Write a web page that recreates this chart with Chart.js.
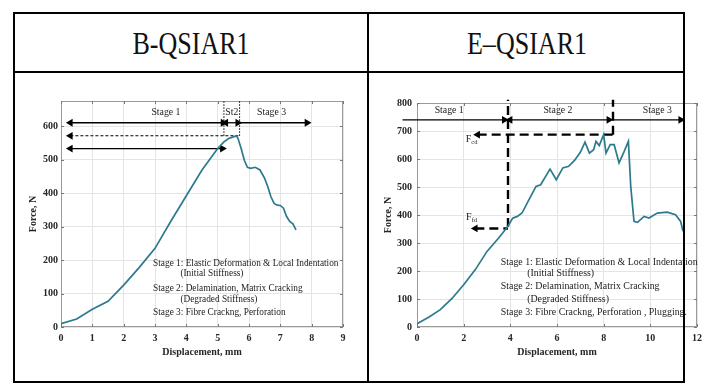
<!DOCTYPE html>
<html lang="en">
  <head>
    <meta charset="UTF-8" />
    <title>B-QSIAR1 / E-QSIAR1</title>
    <style>
      html,
      body {
        margin: 0;
        padding: 0;
        background: #fff;
      }
      body {
        position: relative;
        width: 727px;
        height: 387px;
        overflow: hidden;
        font-family: "Liberation Serif", serif;
      }
      canvas {
        position: absolute;
      }
      #chartB {
        left: 20px;
        top: 80px;
      }
      #chartE {
        left: 372px;
        top: 80px;
      }
      .line {
        position: absolute;
        background: #000;
        z-index: 2;
      }
      .head {
        position: absolute;
        top: 28px;
        width: 200px;
        font-family: "Liberation Serif", "DejaVu Serif", serif;
        font-size: 31px;
        line-height: 1;
        text-align: center;
        transform: scaleX(0.84);
        color: #111;
      }
    </style>
  </head>
  <body>
    <!-- table rules, drawn over the charts -->
    <div class="line" style="left: 13px; top: 12px; width: 672px; height: 2px"></div>
    <div class="line" style="left: 13px; top: 71px; width: 672px; height: 2px"></div>
    <div class="line" style="left: 13px; top: 381px; width: 672px; height: 2px"></div>
    <div class="line" style="left: 13px; top: 12px; width: 2px; height: 371px"></div>
    <div class="line" style="left: 367px; top: 12px; width: 2px; height: 371px"></div>
    <div class="line" style="left: 683px; top: 12px; width: 2px; height: 371px"></div>

    <div class="head" style="left: 91px">B-QSIAR1</div>
    <div class="head" style="left: 427px">E–QSIAR1</div>

    <canvas id="chartB" width="345" height="290"></canvas>
    <canvas id="chartE" width="335" height="290"></canvas>

    <script src="https://cdn.jsdelivr.net/npm/chart.js"></script>
    <script>
      // ---- B-QSIAR1 curve (displacement mm, force N)
      const bDisp = [0, 0.5, 1, 1.5, 2, 2.5, 3, 3.5, 4, 4.5, 5, 5.2, 5.35, 5.5, 5.6, 5.65, 5.75, 5.85, 5.95, 6.05, 6.2, 6.35, 6.5, 6.6, 6.7, 6.8, 6.9, 7.0, 7.1, 7.2, 7.3, 7.4, 7.5];
      const bForce = [10, 24, 53, 77, 125, 178, 235, 315, 392, 469, 533, 553, 563, 568, 571, 563, 533, 498, 477, 474, 477, 469, 444, 419, 389, 369, 364, 363, 355, 330, 315, 308, 290];

      // ---- E-QSIAR1 curve
      const eDisp = [0, 0.5, 1, 1.5, 2, 2.5, 3, 3.5, 3.9, 4.1, 4.3, 4.5, 4.8, 5.1, 5.3, 5.7, 5.97, 6.25, 6.5, 6.75, 7.0, 7.2, 7.39, 7.57, 7.67, 7.81, 8.0, 8.1, 8.28, 8.45, 8.66, 8.88, 9.06, 9.16, 9.3, 9.45, 9.73, 9.94, 10.3, 10.72, 11.08, 11.3, 11.4];
      const eForce = [12, 35, 62, 102, 151, 205, 270, 318, 360, 389, 395, 407, 455, 502, 508, 564, 526, 568, 574, 595, 624, 660, 621, 633, 663, 648, 687, 621, 651, 651, 586, 627, 663, 502, 377, 374, 395, 389, 407, 410, 401, 377, 342];

      // ---- axes
      const bXTicks = [0, 9, 1]; // min, max, step
      const bYTicks = [0, 675, 100];
      const eXTicks = [0, 12, 2];
      const eYTicks = [0, 800, 100];

      // ---- guide lines: [x1, y1, x2, y2, heads, kind]
      const bGuides = [
        [0.3, 610, 5.17, 610, "LR", "solid"],
        [5.26, 610, 5.64, 610, "LR", "solid"],
        [5.7, 610, 7.85, 610, "R", "solid"],
        [0.3, 571, 5.7, 571, "L", "dash"],
        [5.2, 571, 5.2, 675, "", "dot"],
        [5.7, 571, 5.7, 675, "", "dot"],
        [0.3, 533, 5.15, 533, "LR", "solid"],
      ];
      const eGuides = [
        [-0.62, 740, 3.74, 740, "LR", "solid"],
        [3.99, 740, 8.22, 740, "LR", "solid"],
        [8.4, 740, 11.3, 740, "R", "solid"],
        [3.9, 357, 3.9, 812, "", "bigdash"],
        [8.4, 687, 8.4, 812, "", "bigdash"],
        [2.6, 687, 8.4, 687, "L", "bigdash"],
        [2.5, 352, 3.9, 352, "L", "bigdash"],
      ];

      // ---- text notes: label, x, y
      const bStageText = ["Stage 1", "St2", "Stage 3"];
      const bStageX = [3.35, 5.45, 6.72];
      const bStageY = [642, 642, 642];
      const bNoteText = [
        "Stage 1: Elastic Deformation & Local Indentation",
        "(Initial Stiffness)",
        "Stage 2: Delamination, Matrix Cracking",
        "(Degraded Stiffness)",
        "Stage 3: Fibre Crackng, Perforation",
      ];
      const bNoteX = [2.94, 3.81, 2.94, 3.81, 2.94];
      const bNoteY = [190, 159, 115, 83, 44];

      const eStageText = ["Stage 1", "Stage 2", "Stage 3"];
      const eStageX = [1.38, 6.04, 10.3];
      const eStageY = [774, 774, 774];
      const eForceText = [["F", "cd"], ["F", "fd"]];
      const eForceX = [2.34, 2.34];
      const eForceY = [669, 392];
      const eNoteText = [
        "Stage 1: Elastic Deformation & Local Indentation",
        "(Initial Stiffness)",
        "Stage 2: Delamination, Matrix Cracking",
        "(Degraded Stiffness)",
        "Stage 3: Fibre Crackng, Perforation , Plugging.",
      ];
      const eNoteX = [3.59, 4.72, 3.59, 4.72, 3.59];
      const eNoteY = [229, 190, 145, 98, 52];

      const SERIF = '"Liberation Serif", "Times New Roman", serif';
      const CURVE = "#2b7a8d";

      const guideStyles = {
        solid: { width: 1.3, dash: [], r: 4.5 },
        dash: { width: 1.1, dash: [3, 2], r: 4.5 },
        dot: { width: 1, dash: [1.5, 1.5], r: 0 },
        bigdash: { width: 2.4, dash: [9, 5], r: 4.5 },
      };

      function guideDatasets(list) {
        return list.map(([x1, y1, x2, y2, heads, kind]) => {
          const s = guideStyles[kind];
          return {
            data: [
              { x: x1, y: y1 },
              { x: x2, y: y2 },
            ],
            borderColor: "#000",
            borderWidth: s.width,
            borderDash: s.dash,
            pointStyle: "triangle",
            pointRotation: [270, 90],
            pointRadius: [heads.includes("L") ? s.r : 0, heads.includes("R") ? s.r : 0],
            pointBackgroundColor: "#000",
            pointBorderColor: "#000",
            pointBorderWidth: 0,
            clip: false,
          };
        });
      }

      function zip(xs, ys) {
        return xs.map((x, i) => ({ x: x, y: ys[i] }));
      }

      // box + inward ticks like the original plotting tool
      const framePlugin = {
        id: "frame",
        beforeDatasetsDraw(chart) {
          const { ctx, chartArea: a, scales } = chart;
          ctx.save();
          ctx.strokeStyle = "#9a9a9a";
          ctx.lineWidth = 1;
          ctx.strokeRect(Math.round(a.left) + 0.5, Math.round(a.top) + 0.5, Math.round(a.width) - 1, Math.round(a.height) - 1);
          ctx.strokeStyle = "#777";
          ctx.beginPath();
          scales.x.ticks.forEach((t) => {
            const px = Math.round(scales.x.getPixelForValue(t.value)) + 0.5;
            ctx.moveTo(px, a.bottom);
            ctx.lineTo(px, a.bottom - 3);
            ctx.moveTo(px, a.top);
            ctx.lineTo(px, a.top + 3);
          });
          scales.y.ticks.forEach((t) => {
            const py = Math.round(scales.y.getPixelForValue(t.value)) + 0.5;
            ctx.moveTo(a.left, py);
            ctx.lineTo(a.left + 3, py);
            ctx.moveTo(a.right, py);
            ctx.lineTo(a.right - 3, py);
          });
          ctx.stroke();
          ctx.restore();
        },
      };

      const notesPlugin = {
        id: "notes",
        afterDatasetsDraw(chart, args, opts) {
          const { ctx, scales } = chart;
          ctx.save();
          ctx.fillStyle = "#1c1c1c";
          ctx.textBaseline = "middle";
          opts.items.forEach((n) => {
            const px = scales.x.getPixelForValue(n.x);
            const py = scales.y.getPixelForValue(n.y);
            ctx.font = n.size + "px " + SERIF;
            if (Array.isArray(n.text)) {
              // main letter with subscript
              const w1 = ctx.measureText(n.text[0]).width;
              ctx.font = n.size * 0.65 + "px " + SERIF;
              const w2 = ctx.measureText(n.text[1]).width;
              const x0 = px - (w1 + w2) / 2;
              ctx.textAlign = "left";
              ctx.fillText(n.text[1], x0 + w1, py + n.size * 0.3);
              ctx.font = n.size + "px " + SERIF;
              ctx.fillText(n.text[0], x0, py);
            } else {
              ctx.textAlign = n.align;
              ctx.fillText(n.text, px, py);
            }
          });
          ctx.restore();
        },
      };

      function noteItems(text, xs, ys, align, size) {
        return text.map((t, i) => ({ text: t, x: xs[i], y: ys[i], align: align, size: size }));
      }

      function makeChart(id, cfg) {
        const tickFont = { family: SERIF, size: 10, weight: "bold" };
        return new Chart(document.getElementById(id), {
          type: "line",
          data: {
            datasets: [
              {
                data: zip(cfg.disp, cfg.force),
                borderColor: CURVE,
                borderWidth: 1.7,
                pointRadius: 0,
                tension: 0,
              },
            ].concat(guideDatasets(cfg.guides)),
          },
          plugins: [framePlugin, notesPlugin],
          options: {
            responsive: false,
            animation: false,
            events: [],
            layout: { padding: cfg.padding },
            scales: {
              x: {
                type: "linear",
                min: cfg.xTicks[0],
                max: cfg.xTicks[1],
                afterFit: (s) => {
                  s.height = 43;
                },
                ticks: { stepSize: cfg.xTicks[2], padding: 5, color: "#262626", font: tickFont, maxRotation: 0 },
                grid: { color: "#e4e4e4", drawTicks: false },
                border: { display: false },
                title: {
                  display: true,
                  text: "Displacement, mm",
                  color: "#262626",
                  font: tickFont,
                  padding: { top: 0, bottom: 12 },
                },
              },
              y: {
                min: cfg.yTicks[0],
                max: cfg.yTicks[1],
                afterFit: (s) => {
                  s.width = cfg.yWidth;
                },
                ticks: { stepSize: cfg.yTicks[2], padding: cfg.yPad, color: "#262626", font: tickFont, includeBounds: false },
                grid: { color: "#e4e4e4", drawTicks: false },
                border: { display: false },
                title: {
                  display: true,
                  text: "Force, N",
                  color: "#262626",
                  font: tickFont,
                  padding: { top: cfg.yTitlePad, bottom: 0 },
                },
              },
            },
            plugins: {
              legend: { display: false },
              tooltip: { enabled: false },
              notes: { items: cfg.notes },
            },
          },
        });
      }

      makeChart("chartB", {
        disp: bDisp,
        force: bForce,
        guides: bGuides,
        xTicks: bXTicks,
        yTicks: bYTicks,
        padding: { left: 0, top: 21, right: 22, bottom: 0 },
        yWidth: 41,
        yPad: 3,
        yTitlePad: 7,
        notes: noteItems(bStageText, bStageX, bStageY, "center", 9.8).concat(noteItems(bNoteText, bNoteX, bNoteY, "left", 9.3)),
      });

      makeChart("chartE", {
        disp: eDisp,
        force: eForce,
        guides: eGuides,
        xTicks: eXTicks,
        yTicks: eYTicks,
        padding: { left: 0, top: 23, right: 8, bottom: 0 },
        yWidth: 45,
        yPad: 5,
        yTitlePad: 10,
        notes: noteItems(eStageText, eStageX, eStageY, "center", 9.8)
          .concat(noteItems(eForceText, eForceX, eForceY, "center", 10))
          .concat(noteItems(eNoteText, eNoteX, eNoteY, "left", 9.9)),
      });
    </script>
  </body>
</html>
